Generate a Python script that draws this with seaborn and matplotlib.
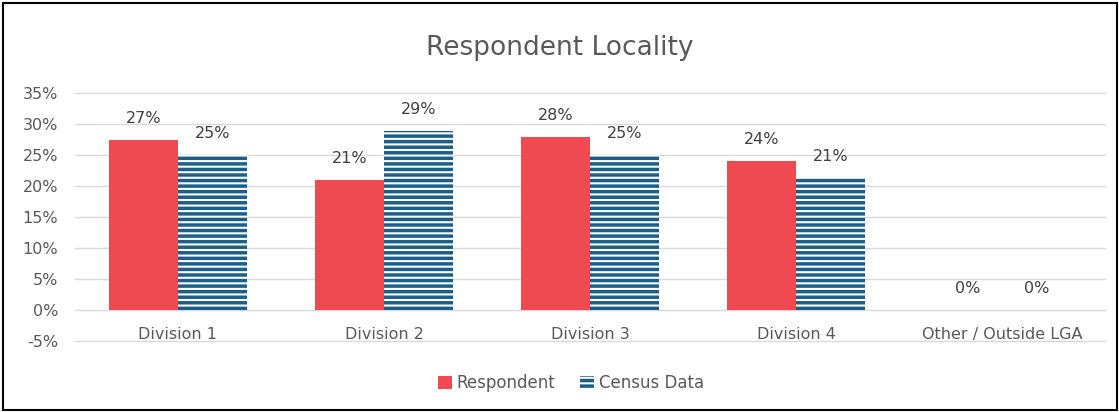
import matplotlib
matplotlib.use("Agg")
import matplotlib.pyplot as plt
import seaborn as sns
import pandas as pd
from matplotlib.patches import Patch, Rectangle
from matplotlib.ticker import FuncFormatter, MultipleLocator

categories = ["Division 1", "Division 2", "Division 3", "Division 4", "Other / Outside LGA"]
respondent = [27.4, 21.0, 27.9, 24.1, 0.0]
census = [25.0, 28.9, 25.0, 21.3, 0.0]
series_names = ["Respondent", "Census Data"]
title = "Respondent Locality"

RED = "#EF4A51"
BLUE = "#1C5E8A"
GRAY = "#595959"

sns.set_theme(style="white")
plt.rcParams["font.family"] = ["DejaVu Sans"]
plt.rcParams["hatch.linewidth"] = 2.5

df = pd.DataFrame({
    "cat": categories * 2,
    "val": respondent + census,
    "series": [series_names[0]] * len(categories) + [series_names[1]] * len(categories),
})

fig = plt.figure(figsize=(11.19, 4.12), dpi=100)
ax = fig.add_axes([0.067, 0.172, 0.9205, 0.602])

sns.barplot(data=df, x="cat", y="val", hue="series", hue_order=series_names,
            palette=[RED, BLUE], width=0.667, saturation=1, ax=ax,
            errorbar=None, legend=False, zorder=3)

# style census bars with horizontal stripes
for bar in ax.containers[1]:
    bar.set_facecolor("white")
    bar.set_edgecolor(BLUE)
    bar.set_hatch("---")
    bar.set_linewidth(0)
for bar in ax.containers[0]:
    bar.set_linewidth(0)

for cont, vals in zip(ax.containers, [respondent, census]):
    ax.bar_label(cont, labels=[f"{round(v):.0f}%" for v in vals], padding=10,
                 fontsize=11.5, color="#404040")

ax.set_ylim(-5, 35)
ax.set_xlim(-0.5, len(categories) - 0.5)
ax.yaxis.set_major_locator(MultipleLocator(5))
ax.yaxis.set_major_formatter(FuncFormatter(lambda v, p: f"{v:.0f}%"))
ax.grid(axis="y", color="#D9D9D9", linewidth=1, zorder=0)
ax.set_axisbelow(True)
for gl in ax.get_ygridlines():
    gl.set_clip_on(False)
for s in ax.spines.values():
    s.set_visible(False)
ax.set_xlabel("")
ax.set_ylabel("")
ax.tick_params(axis="y", length=0, labelsize=11.5, labelcolor=GRAY, pad=12)
ax.tick_params(axis="x", length=0, labelsize=11.5, labelcolor=GRAY, pad=-10)

fig.text(0.5, 1 - 48 / 412, title, ha="center", va="center", fontsize=19, color=GRAY)

handles = [Patch(facecolor=RED, edgecolor="none", label=series_names[0]),
           Patch(facecolor="white", edgecolor=BLUE, hatch="---", linewidth=0, label=series_names[1])]
fig.legend(handles=handles, loc="center", bbox_to_anchor=(571 / 1119, 1 - 383 / 412), ncol=2,
           frameon=False, fontsize=12, labelcolor=GRAY, handlelength=0.8, handleheight=0.8,
           handletextpad=0.3, columnspacing=1.5)

fig.add_artist(Rectangle((3 / 1119, 2 / 412), 1 - 5 / 1119, 1 - 5 / 412, transform=fig.transFigure,
                         fill=False, edgecolor="black", linewidth=1.5))

fig.savefig("out.png", dpi=100)
